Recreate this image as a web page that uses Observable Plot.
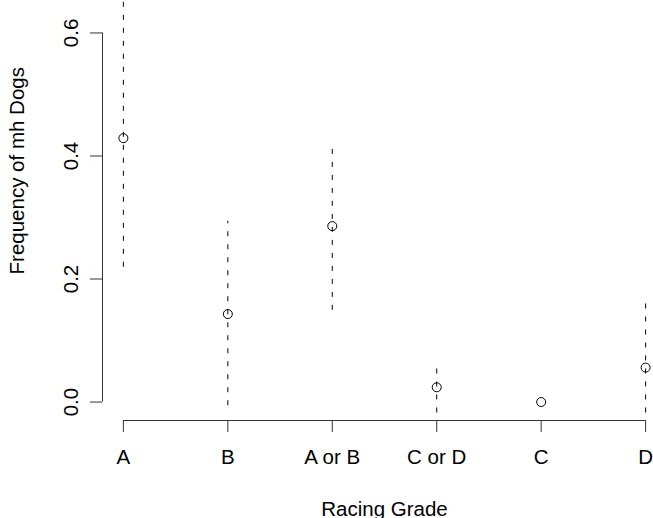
<!DOCTYPE html>
<html>
<head>
<meta charset="utf-8">
<script src="https://cdn.jsdelivr.net/npm/d3@7"></script>
<script src="https://cdn.jsdelivr.net/npm/@observablehq/plot@0.6"></script>
<style>
  html, body { margin: 0; padding: 0; background: #fff; }
  #chart svg { display: block; }
</style>
</head>
<body>
<div id="chart"></div>
<script>
const categories = ["A", "B", "A or B", "C or D", "C", "D"];
const frequency = [0.429, 0.143, 0.286, 0.024, 0.0, 0.056];
const lowerBound = [0.219, -0.006, 0.149, -0.06, null, -0.06];
const upperBound = [0.70, 0.294, 0.423, 0.056, null, 0.163];
const yTicks = [0, 0.2, 0.4, 0.6];

const data = categories.map((c, i) => ({
  idx: i + 1, cat: c, f: frequency[i], lo: lowerBound[i], hi: upperBound[i]
}));
const bars = data.filter(d => d.lo != null && d.hi != null);

const font = "Liberation Sans, Arial, Helvetica, sans-serif";
const fs = 20.5;

const chart = Plot.plot({
  width: 653,
  height: 518,
  marginLeft: 102,
  marginRight: 0,
  marginTop: 0,
  marginBottom: 98,
  style: { fontFamily: font, fontSize: fs + "px", background: "#fff", color: "#000" },
  x: { type: "linear", domain: [0.8, 6.2], range: [102, 666] },
  y: { type: "linear", domain: [-0.03, 0.63], range: [420, 14] },
  marks: [
    Plot.ruleX(bars, {
      x: "idx", y1: "lo", y2: "hi",
      stroke: "#000", strokeWidth: 1, strokeDasharray: "5,8", clip: "frame"
    }),
    Plot.dot(data, {
      x: "idx", y: "f", r: 4.5, stroke: "#000", fill: "none", strokeWidth: 1
    }),
    Plot.ruleY([-0.03], { x1: 1, x2: 6, stroke: "#333", strokeWidth: 1 }),
    Plot.ruleX([0.8], { y1: 0, y2: 0.6, stroke: "#333", strokeWidth: 1 }),
    Plot.axisX({
      ticks: categories.map((c, i) => i + 1),
      tickFormat: i => categories[i - 1],
      tickSize: 12,
      tickPadding: 17,
      label: null,
      stroke: "#333",
      fontSize: fs
    }),
    Plot.axisY({
      ticks: yTicks,
      tickFormat: d3.format(".1f"),
      tickSize: 12,
      tickPadding: 13,
      tickRotate: -90,
      label: null,
      stroke: "#333",
      fontSize: fs
    }),
    Plot.text(["Racing Grade"], {
      x: () => 3.5, frameAnchor: "bottom", dy: 95, lineAnchor: "bottom",
      text: d => d, fontSize: fs, fill: "#000"
    }),
    Plot.text(["Frequency of mh Dogs"], {
      y: () => 0.376, frameAnchor: "left", textAnchor: "middle", dx: -85, rotate: -90,
      text: d => d, fontSize: fs, fill: "#000"
    })
  ]
});
document.getElementById("chart").appendChild(chart);
</script>
</body>
</html>
